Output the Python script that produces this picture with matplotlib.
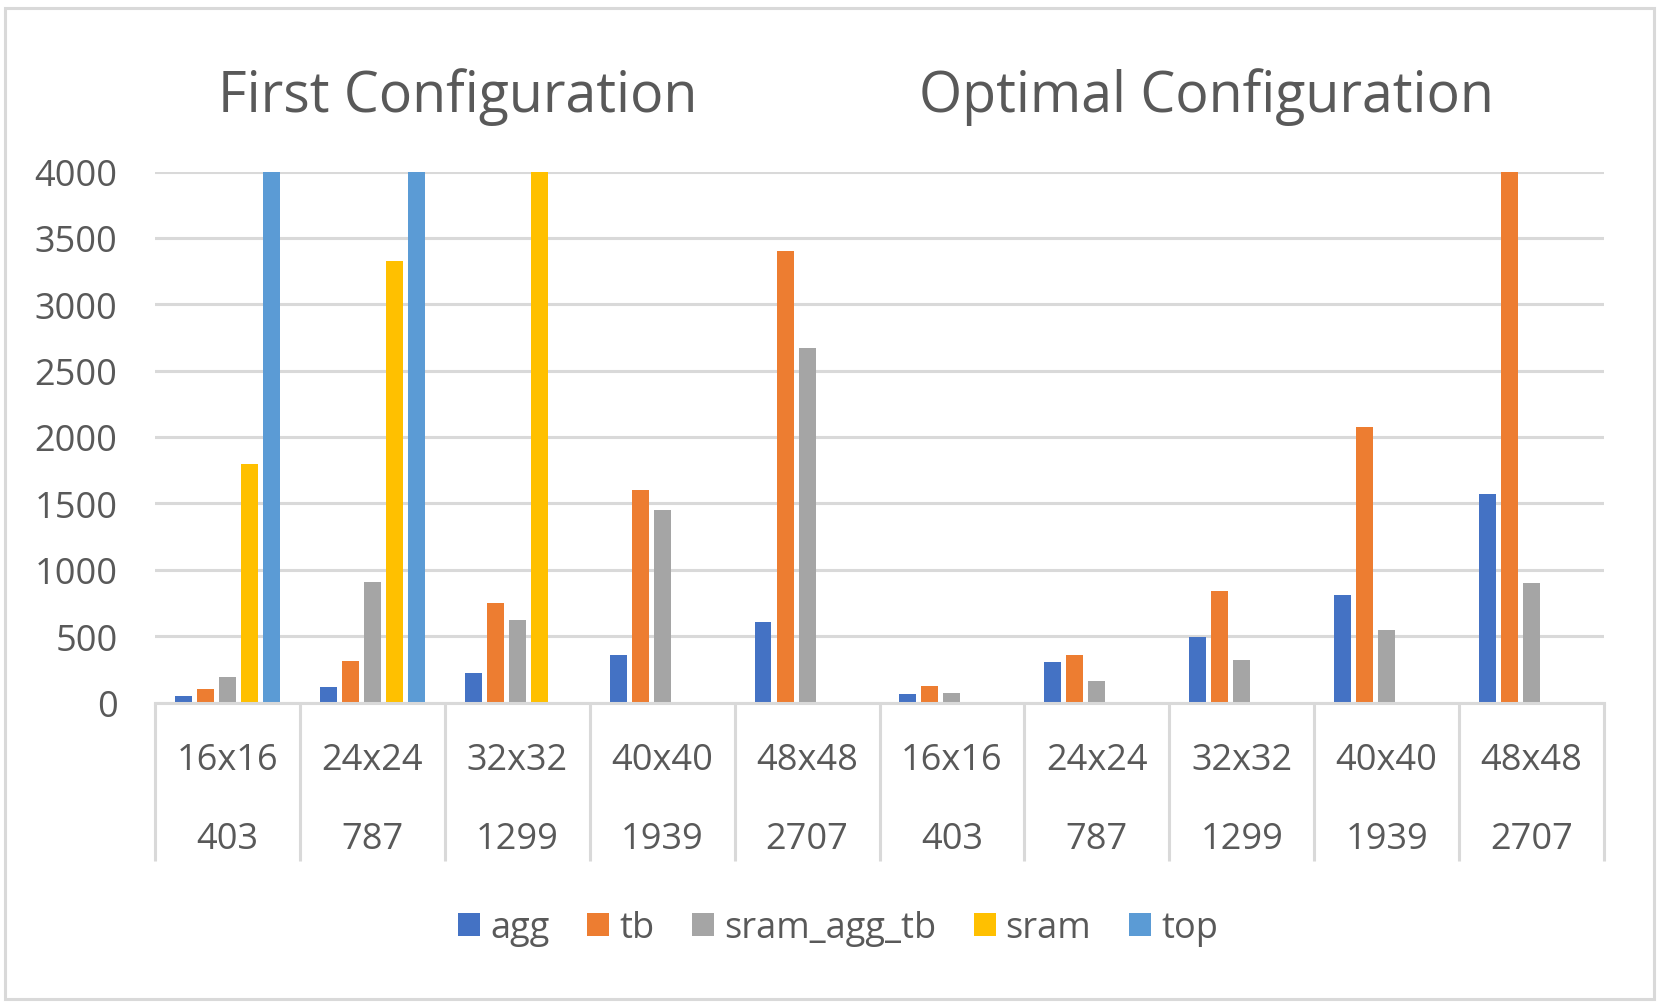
import numpy as np
import matplotlib
matplotlib.use("Agg")
import matplotlib.pyplot as plt
from matplotlib.patches import Rectangle

plt.rcParams["font.family"] = ["Open Sans", "DejaVu Sans"]

# ---------------- DATA ----------------
sizes = ["16x16", "24x24", "32x32", "40x40", "48x48",
         "16x16", "24x24", "32x32", "40x40", "48x48"]
counts = ["403", "787", "1299", "1939", "2707",
          "403", "787", "1299", "1939", "2707"]

series_names = ["agg", "tb", "sram_agg_tb", "sram", "top"]
agg = [51, 119, 222, 358, 604, 62, 305, 495, 808, 1570]
tb = [104, 315, 747, 1602, 3402, 124, 357, 838, 2072, 4000]
sram_agg_tb = [194, 906, 620, 1452, 2669, 72, 164, 320, 545, 900]
sram = [1793, 3323, 4000, 0, 0, 0, 0, 0, 0, 0]
top = [4000, 4000, 0, 0, 0, 0, 0, 0, 0, 0]

colors = ["#4472C4", "#ED7D31", "#A5A5A5", "#FFC000", "#5B9BD5"]
text_color = "#595959"
grid_color = "#D9D9D9"

# ---------------- FIGURE ----------------
W, H = 1663, 1003
fig = plt.figure(figsize=(W / 100, H / 100), dpi=100)
fig.patches.append(Rectangle((5 / W, 3 / H), 1649 / W, 991 / H,
                             transform=fig.transFigure, fill=False,
                             edgecolor=grid_color, linewidth=2.2))

left, right, top_px, zero_px = 155, 1604, 172.5, 703.5
ax = fig.add_axes([left / W, 1 - zero_px / H, (right - left) / W,
                   (zero_px - top_px) / H])

x = np.arange(len(sizes))
step, width = 0.152, 0.117
for i, (name, vals) in enumerate(zip(series_names,
                                     [agg, tb, sram_agg_tb, sram, top])):
    ax.bar(x + (i - 2) * step, vals, width, color=colors[i], label=name,
           zorder=3)

ax.set_xlim(-0.5, len(sizes) - 0.5)
ax.set_ylim(0, 4000)
ax.set_yticks(np.arange(0, 4001, 500))
ax.tick_params(axis="y", length=0, pad=27, labelsize=26,
               labelcolor=text_color)
ax.yaxis.grid(True, color=grid_color, linewidth=2.2, zorder=0)

# category separators
ax.set_xticks([])
ax.set_xticks(np.arange(-0.5, len(sizes)), minor=True)
ax.tick_params(axis="x", which="minor", length=114, width=2.2,
               color=grid_color, direction="out")

for s in ["top", "right", "left"]:
    ax.spines[s].set_visible(False)
ax.spines["bottom"].set_color(grid_color)
ax.spines["bottom"].set_linewidth(2.2)
ax.spines["bottom"].set_zorder(4)

trans = ax.get_xaxis_transform()
for xi, s, c in zip(x, sizes, counts):
    ax.text(xi, -0.126, s, transform=trans, ha="center", va="baseline",
            fontsize=26, color=text_color)
    ax.text(xi, -0.2744, c, transform=trans, ha="center", va="baseline",
            fontsize=26, color=text_color)

# ---------------- TITLES ----------------
fig.text(458 / W, 1 - 112 / H, "First Configuration", ha="center",
         va="baseline", fontsize=40, color=text_color)
fig.text(1206 / W, 1 - 112 / H, "Optimal Configuration", ha="center",
         va="baseline", fontsize=40, color=text_color)

# ---------------- LEGEND ----------------
fig.legend(loc="center", bbox_to_anchor=(838 / W, 1 - 929 / H),
           ncol=5, frameon=False, fontsize=26, labelcolor=text_color,
           handlelength=0.6, handleheight=0.6, handletextpad=0.28,
           columnspacing=1.05, borderaxespad=0)

fig.savefig("out.png", dpi=100)
